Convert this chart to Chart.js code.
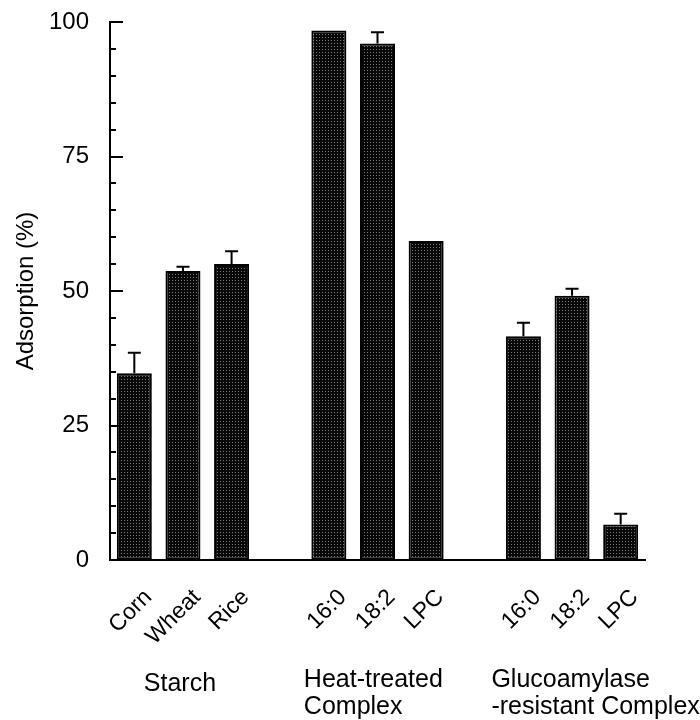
<!DOCTYPE html>
<html><head><meta charset="utf-8">
<script src="https://cdn.jsdelivr.net/npm/chart.js@4"></script>
<style>html,body{margin:0;padding:0;background:#fff}</style>
</head><body>
<canvas id="c" width="700" height="720"></canvas>
<script>
// ---- data ----
const categories = ['Corn', 'Wheat', 'Rice', '', '16:0', '18:2', 'LPC', '', '16:0', '18:2', 'LPC'];
const adsorption = [34.7, 53.7, 55.0, null, 98.4, 96.0, 59.3, null, 41.6, 49.1, 6.6];
const errorUp = [3.8, 0.8, 2.4, null, null, 2.1, null, null, 2.5, 1.3, 2.0];
const yTickValues = [0, 25, 50, 75, 100];
const groupTexts = [['Starch'], ['Heat-treated', 'Complex'], ['Glucoamylase', '-resistant Complex']];
const groupAnchor = [1, 4, 8];
const yTitle = 'Adsorption (%)';

const FONT = '"Liberation Sans", Arial, Helvetica, sans-serif';

// stipple pattern for bars
function makePattern() {
  const p = document.createElement('canvas');
  p.width = 3; p.height = 3;
  const g = p.getContext('2d');
  g.fillStyle = '#080808';
  g.fillRect(0, 0, 3, 3);
  g.fillStyle = '#7a7a7a';
  g.fillRect(1, 1, 1, 1);
  return document.getElementById('c').getContext('2d').createPattern(p, 'repeat');
}
const barFill = makePattern();

const groupLayout = [
  {align: 'center', dx: -3, ys: [684]},
  {align: 'left', dx: -25, ys: [680, 707]},
  {align: 'left', dx: -32, ys: [680, 707]}
];

const decorPlugin = {
  id: 'decor',
  afterDatasetsDraw(chart) {
    const ctx = chart.ctx;
    const ys = chart.scales.y, xs = chart.scales.x;
    const left = chart.chartArea.left;
    ctx.save();
    // inward tick marks
    ctx.strokeStyle = '#000';
    ctx.lineWidth = 2;
    ys.ticks.forEach(t => {
      const py = Math.round(ys.getPixelForValue(t.value));
      const len = (t.value % 25 === 0) ? 13 : 6;
      ctx.beginPath();
      ctx.moveTo(left, py);
      ctx.lineTo(left + len, py);
      ctx.stroke();
    });
    // error bars (upper only)
    const meta = chart.getDatasetMeta(0);
    meta.data.forEach((bar, i) => {
      if (adsorption[i] == null || errorUp[i] == null) return;
      const yTop = ys.getPixelForValue(adsorption[i] + errorUp[i]);
      const yBar = ys.getPixelForValue(adsorption[i]);
      ctx.beginPath();
      ctx.moveTo(bar.x, yBar);
      ctx.lineTo(bar.x, yTop);
      ctx.moveTo(bar.x - 6.5, yTop);
      ctx.lineTo(bar.x + 6.5, yTop);
      ctx.stroke();
    });
    // group labels
    ctx.fillStyle = '#000';
    ctx.font = '25px ' + FONT;
    ctx.textBaseline = 'middle';
    groupTexts.forEach((lines, gi) => {
      const lay = groupLayout[gi];
      const x = xs.getPixelForValue(groupAnchor[gi]) + lay.dx;
      ctx.textAlign = lay.align;
      lines.forEach((s, li) => ctx.fillText(s, x, lay.ys[li]));
    });
    ctx.restore();
  }
};

new Chart(document.getElementById('c'), {
  type: 'bar',
  data: {
    labels: categories,
    datasets: [{
      data: adsorption,
      backgroundColor: barFill,
      borderColor: '#000',
      borderWidth: 2,
      borderSkipped: false,
      barPercentage: 0.72,
      categoryPercentage: 1.0
    }]
  },
  options: {
    responsive: false,
    animation: false,
    devicePixelRatio: 1,
    layout: {padding: {top: 22, right: 55, left: 0, bottom: 0}},
    plugins: {legend: {display: false}, tooltip: {enabled: false}},
    scales: {
      x: {
        offset: true,
        grid: {display: true, drawOnChartArea: false, drawTicks: false},
        border: {display: true, color: '#000', width: 2},
        ticks: {
          color: '#000',
          font: {family: FONT, size: 23},
          minRotation: 45, maxRotation: 45,
          autoSkip: false,
          padding: 24,
          labelOffset: 14
        },
        afterFit(scale) {
          scale.height = 160;
          scale.paddingTop = 0; scale.paddingBottom = 0;
        }
      },
      y: {
        min: 0, max: 100,
        grid: {display: true, drawOnChartArea: false, drawTicks: false},
        border: {display: true, color: '#000', width: 2},
        ticks: {
          stepSize: 5,
          autoSkip: false,
          color: '#000',
          padding: 21,
          font: {family: FONT, size: 24},
          callback: v => yTickValues.includes(v) ? String(v) : ''
        },
        title: {
          display: true,
          text: yTitle,
          color: '#000',
          font: {family: FONT, size: 24},
          padding: {top: 12, bottom: 0}
        },
        afterFit(scale) {
          scale.width = 110;
          scale.paddingTop = 0; scale.paddingBottom = 0;
        }
      }
    }
  },
  plugins: [decorPlugin]
});
</script>
</body></html>
